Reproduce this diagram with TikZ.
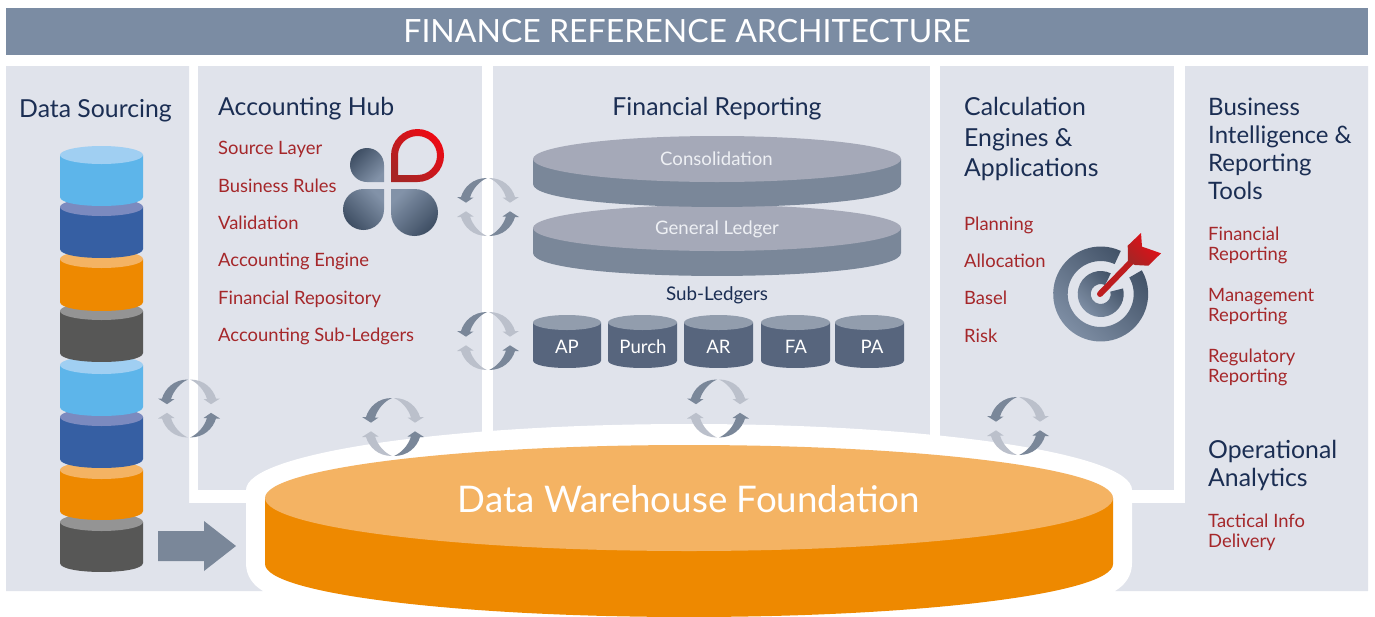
\documentclass[tikz,border=0pt]{standalone}
\usepackage{fontspec}
\setmainfont{Lato}
\usepackage{xcolor}

\definecolor{barblue}{HTML}{7B8CA3}
\definecolor{panelgrey}{HTML}{E0E3EB}
\definecolor{navytext}{HTML}{1B2E53}
\definecolor{redtext}{HTML}{A5272A}
\definecolor{cycdark}{HTML}{7A8799}
\definecolor{cyclight}{HTML}{BBC0CB}
\definecolor{drumtop}{HTML}{F4B363}
\definecolor{drumside}{HTML}{EE8900}
\definecolor{skyside}{HTML}{5DB5EA}
\definecolor{skytop}{HTML}{A0CFF2}
\definecolor{royalside}{HTML}{365FA3}
\definecolor{royaltop}{HTML}{7B8ABF}
\definecolor{coalside}{HTML}{575756}
\definecolor{coaltop}{HTML}{949494}
\definecolor{slateside}{HTML}{7A8799}
\definecolor{slatetop}{HTML}{A5A9B8}
\definecolor{subside}{HTML}{57657D}
\definecolor{subtop}{HTML}{929DAD}
\definecolor{icondark}{HTML}{3E4E63}
\definecolor{iconlight}{HTML}{8292A8}
\definecolor{brightred}{HTML}{EE0A14}
\definecolor{dimred}{HTML}{A82424}
\definecolor{disktext}{HTML}{EEF0F4}

% left x, right x, lid centre y, body height, lid radius, side colour, lid colour
\newcommand{\cyl}[7]{
  \fill[#6] (#1,-#3) -- (#1,-#3-#4) .. controls (#1,-#3-#4-#5*1.33) and (#2,-#3-#4-#5*1.33) .. (#2,-#3-#4) -- (#2,-#3) -- cycle;
  \fill[#7] (#1*.5+#2*.5,-#3) ellipse [x radius={(#2-#1)*.5pt}, y radius={#5*1pt}];
}

\begin{document}
\begin{tikzpicture}[
  x=1pt,y=1pt,
  head/.style={inner sep=0pt,yshift=-.8pt,text=navytext,font=\fontsize{24.8}{28}\selectfont,align=left,anchor=base west},
  item/.style={inner sep=0pt,yshift=-.8pt,text=redtext,font=\fontsize{18.4}{20.6}\selectfont,align=left,anchor=base west},
  disklabel/.style={inner sep=0pt,text=white,font=\fontsize{18.6}{20}\selectfont,anchor=base},
  crescent/.style={insert path={(-1,29) .. controls (-15,29) and (-24,20) .. (-27,10) -- (-31,10) -- (-22,4.3) -- (-14.5,9.5) -- (-18,9.5) .. controls (-15,19) and (-8,26) .. (-1,29) -- cycle}},
  cycarrows/.pic={
    \foreach \ang in {0,180} {
      \fill[cycdark,rotate=\ang,crescent];
      \fill[cyclight,rotate=\ang,xscale=-1,crescent];
    }
  }
]
\useasboundingbox (0,0) rectangle (1375,-616);

% title bar and panels
\fill[barblue] (6,-8) rectangle (1368,-55);
\node[inner sep=0pt,text=white,font=\fontsize{32}{36}\selectfont] (title) at (687,-31) {FINANCE REFERENCE ARCHITECTURE};

\fill[panelgrey] (6,-66) -- (189,-66) -- (189,-503) -- (300,-503) -- (300,-591) -- (6,-591) -- cycle;
\fill[panelgrey] (198,-66) rectangle (482,-490);
\fill[panelgrey] (493,-66) rectangle (930,-490);
\fill[panelgrey] (940,-66) rectangle (1174,-490);
\fill[panelgrey] (1185,-66) -- (1368,-66) -- (1368,-591) -- (1100,-591) -- (1100,-503) -- (1185,-503) -- cycle;

% white halo and warehouse drum
\fill[white] (246,-490) arc (180:0:443pt and 66pt) -- (1132,-563)
  .. controls (1132,-576) and (1125,-585) .. (1115,-591) -- (1115,-616) -- (263,-616) -- (263,-591)
  .. controls (253,-585) and (246,-576) .. (246,-563) -- cycle;
\fill[drumside] (265,-498) -- (265,-564) arc (180:360:424pt and 53pt) -- (1113,-498) -- cycle;
\fill[drumtop] (689,-498) ellipse [x radius=424pt, y radius=53pt];
\node[inner sep=0pt,text=white,font=\fontsize{36.7}{40}\selectfont] (dwf) at (689,-499) {Data Warehouse Foundation};

% data sourcing stack
\cyl{60}{143}{522}{41}{9}{coalside}{coaltop}
\cyl{60}{143}{470}{41}{9}{drumside}{drumtop}
\cyl{60}{143}{417}{42}{9}{royalside}{royaltop}
\cyl{60}{143}{365}{42}{9}{skyside}{skytop}
\cyl{60}{143}{311}{42}{9}{coalside}{coaltop}
\cyl{60}{143}{259}{43}{9}{drumside}{drumtop}
\cyl{60}{143}{207}{42}{9}{royalside}{royaltop}
\cyl{60}{143}{155}{42}{9}{skyside}{skytop}
\node[head] (sourcing) at (19,-117) {Data Sourcing};
\fill[cycdark] (158,-531) -- (204,-531) -- (204,-521) -- (236,-546) -- (204,-571) -- (204,-561) -- (158,-561) -- cycle;

% accounting hub
\node[head] (hub) at (218,-115) {Accounting Hub};
\node[item] (source) at (218,-154) {Source Layer};
\node[item] (rules) at (218,-192) {Business Rules};
\node[item] (valid) at (218,-229) {Validation};
\node[item] (engine) at (218,-266) {Accounting Engine};
\node[item] (repo) at (218,-304) {Financial Repository};
\node[item] (subs) at (218,-341) {Accounting Sub-Ledgers};

\shade[even odd rule,top color=brightred,bottom color=dimred,shading angle=-45]
  (391,-182) -- (391,-155.5) arc (180:-90:26.5) -- cycle
  (398,-175) -- (398,-155.5) arc (180:-90:19.5) -- cycle;
\shade[top color=icondark,bottom color=iconlight,shading angle=45]
  (384,-182) -- (384,-165) arc (0:270:17) -- cycle;
\shade[top color=icondark,bottom color=iconlight,shading angle=135]
  (384,-189) -- (363.5,-189) arc (90:360:20.5) -- cycle;
\shade[top color=icondark,bottom color=iconlight,shading angle=225]
  (391,-189) -- (391,-212.5) arc (180:450:23.5) -- cycle;

% financial reporting
\node[head,anchor=base] (finrep) at (717,-115) {Financial Reporting};
\cyl{533}{901}{228}{25}{23}{slateside}{slatetop}
\cyl{533}{901}{159}{25}{23}{slateside}{slatetop}
\node[disklabel,text=disktext] (cons) at (716.5,-165) {Consolidation};
\node[disklabel,text=disktext] (gl) at (717,-234) {General Ledger};
\node[disklabel,text=navytext,font=\fontsize{18.8}{20}\selectfont] (sublabel) at (717,-300) {Sub-Ledgers};
\cyl{533}{601}{322.5}{38}{7.5}{subside}{subtop}
\cyl{608}{677}{322.5}{38}{7.5}{subside}{subtop}
\cyl{684}{753}{322.5}{38}{7.5}{subside}{subtop}
\cyl{761}{830}{322.5}{38}{7.5}{subside}{subtop}
\cyl{835}{904}{322.5}{38}{7.5}{subside}{subtop}
\node[disklabel] (ap) at (567,-353) {AP};
\node[disklabel] (purch) at (643,-353) {Purch};
\node[disklabel] (ar) at (718.5,-353) {AR};
\node[disklabel] (fa) at (796,-353) {FA};
\node[disklabel] (pa) at (872,-353) {PA};

% calculation engines
\node[head,font=\fontsize{24.8}{30.5}\selectfont] (calc) at (964,-176) {Calculation\\Engines \&\\Applications};
\node[item] (plan) at (964,-230) {Planning};
\node[item] (alloc) at (964,-267) {Allocation};
\node[item] (basel) at (964,-304) {Basel};
\node[item] (risk) at (964,-342) {Risk};

\begin{scope}[shift={(1100.7,-294)}]
\shade[top color=icondark,bottom color=iconlight,shading angle=-45]
  (65:47.5) arc (65:390:47.5) -- (30:33) arc (390:65:33) -- cycle;
\shade[top color=icondark,bottom color=iconlight,shading angle=-45]
  (64:23) arc (64:374:23) -- (14:10) arc (374:64:10) -- cycle;
\end{scope}
\draw[line width=6pt,line cap=round,dimred!70!brightred] (1100,-294) -- (1133,-260);
\shade[top color=brightred,bottom color=dimred,shading angle=-45]
  (1127.7,-245.7) -- (1141,-233) -- (1142,-246.7) -- (1146,-248) -- (1161,-253.3)
  -- (1148.3,-265.7) -- (1135,-265) -- (1128,-262) -- cycle;

% business intelligence
\node[head,font=\fontsize{24}{28}\selectfont] (bi) at (1208,-199) {Business\\Intelligence \&\\Reporting\\Tools};
\node[item] (r1) at (1208,-260) {Financial\\Reporting};
\node[item] (r2) at (1208,-321) {Management\\Reporting};
\node[item] (r3) at (1208,-382) {Regulatory\\Reporting};
\node[head] (ops) at (1208,-486) {Operational\\Analytics};
\node[item] (tact) at (1208,-547) {Tactical Info\\Delivery};

% exchange arrows
\pic (c1) at (488,-207) {cycarrows};
\pic (c2) at (488,-341) {cycarrows};
\pic (c3) at (189,-408.5) {cycarrows};
\pic (c4) at (393,-427) {cycarrows};
\pic (c5) at (718,-408.5) {cycarrows};
\pic (c6) at (1018,-426) {cycarrows};
\end{tikzpicture}
\end{document}
